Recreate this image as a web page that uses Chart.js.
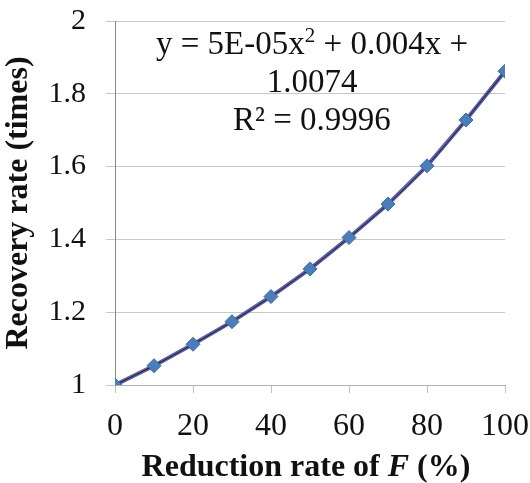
<!DOCTYPE html>
<html>
<head>
<meta charset="utf-8">
<script src="https://cdn.jsdelivr.net/npm/chart.js@4.4.1/dist/chart.umd.min.js"></script>
<style>
  html, body { margin: 0; padding: 0; background: #fff; }
  #wrap { position: relative; width: 530px; height: 483px; }
  #chart { position: absolute; left: 0; top: 0; }
  .txt { position: absolute; font-family: "Liberation Serif", "Times New Roman", serif; color: #111; white-space: nowrap; text-align: center; }
  #eq { left: 152px; width: 320px; top: 24px; font-size: 33px; line-height: 38px; }
  #xtitle { left: 0; width: 612px; top: 447px; font-size: 32px; font-weight: bold; line-height: 36px; }
</style>
</head>
<body>
<div id="wrap">
  <canvas id="chart" width="530" height="483"></canvas>
  <div class="txt" id="eq">y = 5E-05x<sup style="font-size:21px;line-height:0">2</sup> + 0.004x +<br>1.0074<br>R² = 0.9996</div>
  <div class="txt" id="xtitle">Reduction rate of <i>F</i> (%)</div>
</div>
<script>
// Reduction rate of F (%)
const reduction = [0, 10, 20, 30, 40, 50, 60, 70, 80, 90, 100];
// Recovery rate (times)
const recovery = [1.0, 1.053, 1.112, 1.174, 1.243, 1.319, 1.405, 1.497, 1.602, 1.728, 1.862];

const xTicks = [0, 20, 40, 60, 80, 100];
const yTicks = [1, 1.2, 1.4, 1.6, 1.8, 2];

const points = reduction.map((x, i) => ({ x, y: recovery[i] }));
const serif = '"Liberation Serif", "Times New Roman", serif';

const config = {
  type: 'line',
  data: {
    datasets: [
      {
        // markers on top
        label: 'markers',
        data: points,
        showLine: false,
        pointStyle: 'rectRot',
        pointRadius: 7,
        pointBackgroundColor: '#4a7ebb',
        pointBorderColor: '#3d6aa2',
        pointBorderWidth: 1,
        order: 0,
      },
      {
        // polynomial trendline (thin dark)
        label: 'trend',
        data: points,
        borderColor: '#1e1e3a',
        borderWidth: 1,
        pointRadius: 0,
        cubicInterpolationMode: 'monotone',
        order: 1,
      },
      {
        label: 'series',
        data: points,
        borderColor: '#5a5fa6',
        borderWidth: 4,
        pointRadius: 0,
        tension: 0,
        order: 2,
      },
    ],
  },
  options: {
    responsive: false,
    animation: false,
    layout: { padding: { top: 21, right: 25, left: 0, bottom: 0 } },
    plugins: { legend: { display: false }, tooltip: { enabled: false } },
    scales: {
      x: {
        type: 'linear',
        min: 0,
        max: 100,
        afterBuildTicks: (s) => { s.ticks = xTicks.map(v => ({ value: v })); },
        afterFit: (s) => { s.height = 98; s.paddingLeft = 0; s.paddingRight = 0; },
        ticks: { color: '#111', font: { family: serif, size: 32 }, padding: 14, maxRotation: 0 },
        grid: { drawOnChartArea: false, color: '#c0c0c0', tickLength: 8 },
        border: { color: '#b0b0b0' },
      },
      y: {
        min: 1,
        max: 2,
        afterBuildTicks: (s) => { s.ticks = yTicks.map(v => ({ value: v })); },
        afterFit: (s) => { s.width = 115; s.paddingTop = 0; s.paddingBottom = 0; },
        ticks: {
          color: '#111',
          font: { family: serif, size: 30 },
          padding: 20,
          callback: (v) => String(+v.toFixed(1)),
        },
        grid: { color: '#c8c8c8', tickLength: 9 },
        border: { color: '#888' },
        title: {
          display: true,
          text: 'Recovery rate (times)',
          color: '#111',
          font: { family: serif, size: 32, weight: 'bold' },
          padding: 0,
        },
      },
    },
  },
};

new Chart(document.getElementById('chart'), config);
</script>
</body>
</html>
